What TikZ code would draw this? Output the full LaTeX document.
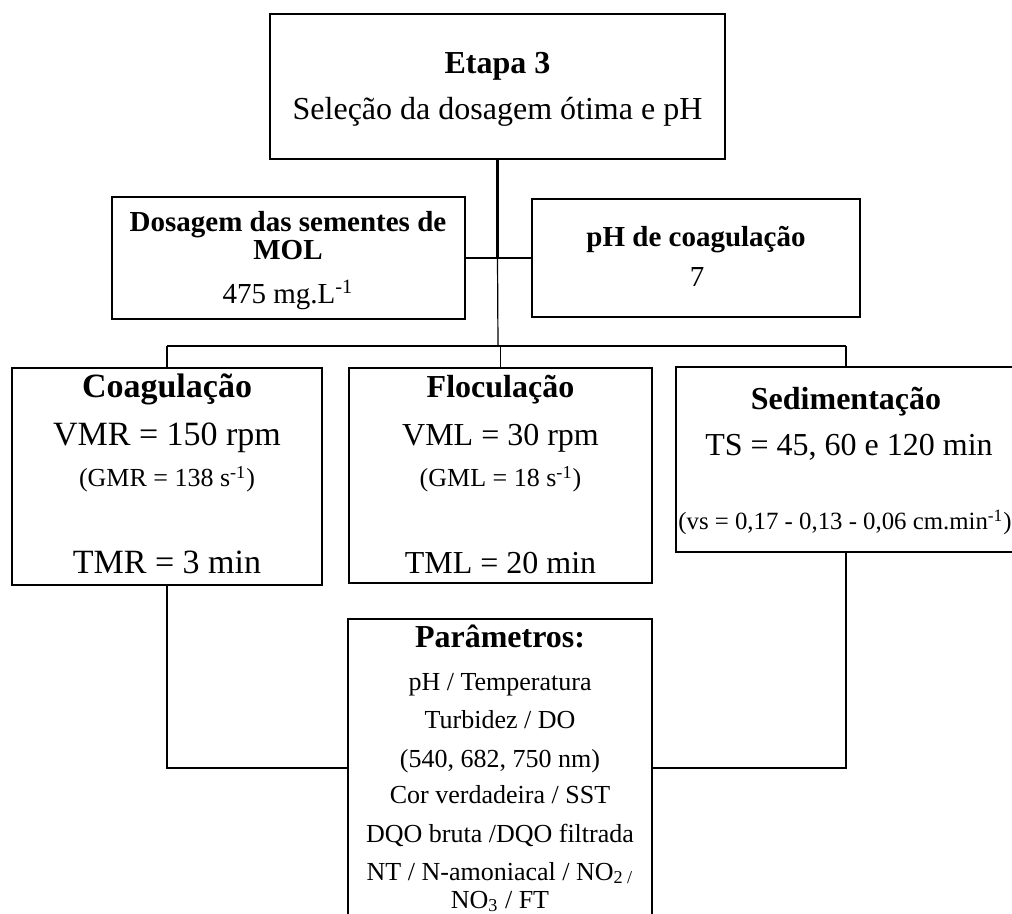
\documentclass[tikz,border=0pt]{standalone}
\usepackage{fontspec}
\setmainfont{Liberation Serif}

\newcommand{\fsHead}{\fontsize{16}{19}\selectfont}
\newcommand{\fsMid}{\fontsize{14.5}{17}\selectfont}
\newcommand{\fsBig}{\fontsize{17}{20}\selectfont}
\newcommand{\fsSmall}{\fontsize{13}{15}\selectfont}
\newcommand{\fsTiny}{\fontsize{12.4}{14}\selectfont}

\tikzset{
  box/.style={draw, line width=0.6pt, inner sep=0pt},
  txt/.style={anchor=base, inner sep=0pt},
  link/.style={line width=0.6pt},
  hlink/.style={line width=1.2pt},
}

\begin{document}
\begin{tikzpicture}[x=0.5pt,y=-0.5pt]
\useasboundingbox (0,0) rectangle (1012,914);

% boxes
\node[box, minimum width=227.5pt, minimum height=72.5pt] (etapa) at (497.5,86.5) {};
\node[box, minimum width=176.5pt, minimum height=61pt] (dosagem) at (288.5,258) {};
\node[box, minimum width=164pt, minimum height=59pt] (ph) at (696,258) {};
\node[box, minimum width=155pt, minimum height=108.5pt] (coag) at (167,476.5) {};
\node[box, minimum width=151.5pt, minimum height=107.5pt] (floc) at (500.5,475.5) {};
\node[box, minimum width=170pt, minimum height=92.5pt] (sed) at (846,459.5) {};
\node[box, minimum width=152pt, minimum height=160.5pt] (param) at (500,779.5) {};

% texts
\node[txt, font=\bfseries\fsHead] (etapaA) at (497.5,74) {Etapa 3};
\node[txt, font=\fsHead] (etapaB) at (497.5,120) {Seleção da dosagem ótima e pH};

\node[txt, font=\bfseries\fsMid] (dosA) at (288,232) {Dosagem das sementes de};
\node[txt, font=\bfseries\fsMid] (dosB) at (288,260) {MOL};
\node[txt, font=\fsMid] (dosC) at (288,304) {475 mg.L\textsuperscript{-1}};

\node[txt, font=\bfseries\fsMid] (phA) at (696,247) {pH de coagulação};
\node[txt, font=\fsMid] (phB) at (697,287) {7};

\node[txt, font=\bfseries\fsBig] (coagA) at (167,398) {Coagulação};
\node[txt, font=\fsBig] (coagB) at (167,445) {VMR = 150 rpm};
\node[txt, font=\fsSmall] (coagC) at (167,487) {(GMR = 138 s\textsuperscript{-1})};
\node[txt, font=\fsBig] (coagD) at (167,574) {TMR = 3 min};

\node[txt, font=\bfseries\fsHead] (flocA) at (500.5,398) {Floculação};
\node[txt, font=\fsHead] (flocB) at (500.5,445) {VML = 30 rpm};
\node[txt, font=\fsSmall] (flocC) at (500.5,487) {(GML = 18 s\textsuperscript{-1})};
\node[txt, font=\fsHead] (flocD) at (500.5,574) {TML = 20 min};

\node[txt, font=\bfseries\fsHead] (sedA) at (846,410) {Sedimentação};
\node[txt, font=\fsHead] (sedB) at (849,456) {TS = 45, 60 e 120 min};
\node[txt, font=\fsTiny] (sedC) at (845,530) {(vs = 0,17 - 0,13 - 0,06 cm.min\textsuperscript{-1})};

\node[txt, font=\bfseries\fsHead] (parA) at (500,647) {Parâmetros:};
\node[txt, font=\fsSmall] (parB) at (500,690) {pH / Temperatura};
\node[txt, font=\fsSmall] (parC) at (500,728) {Turbidez / DO};
\node[txt, font=\fsSmall] (parD) at (500,767) {(540, 682, 750 nm)};
\node[txt, font=\fsSmall] (parE) at (500,803) {Cor verdadeira / SST};
\node[txt, font=\fsSmall] (parF) at (500,842) {DQO bruta /DQO filtrada};
\node[txt, font=\fsSmall] (parG) at (500,880) {NT / N-amoniacal / NO\textsubscript{2 /}};
\node[txt, font=\fsSmall] (parH) at (500,908) {NO\textsubscript{3} / FT};

% connectors
\coordinate (bus) at (498,346);
\coordinate (join) at (500,768);
\draw[hlink] (etapa.south) -- (etapa.south |- dosagem.east);
\draw[hlink] (dosagem.east) -- (etapa.south |- dosagem.east);
\draw[link] (etapa.south |- dosagem.east) -- (ph.west);
\draw[link] (etapa.south |- dosagem.east) -- (bus);
\draw[link] (bus -| coag.north) -- (bus -| sed.north);
\draw[link] (bus -| coag.north) -- (coag.north);
\draw[link] (bus -| floc.north) -- (floc.north);
\draw[link] (bus -| sed.north) -- (sed.north);
\draw[link] (coag.south) |- (param.west |- join);
\draw[link] (sed.south) |- (param.east |- join);
\end{tikzpicture}
\end{document}
